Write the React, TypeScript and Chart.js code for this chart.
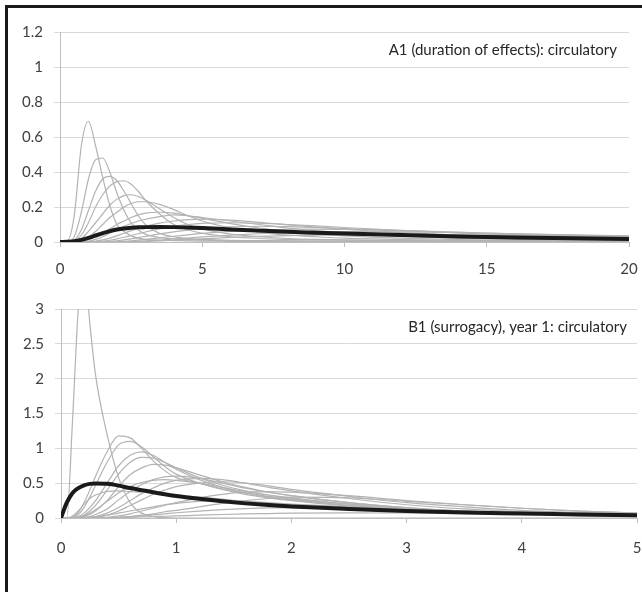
import React, { useEffect, useRef } from "react";
import { Chart, registerables } from "chart.js";
Chart.register(...registerables);

// ---------- Panel A1 (duration of effects): x in years 0..20 ----------
const topTitle = "A1 (duration of effects): circulatory";
const topX = [0, 0.25, 0.5, 0.75, 1, 1.25, 1.5, 1.75, 2, 2.25, 2.5, 2.75, 3, 3.5, 4, 4.5, 5, 6, 7, 8, 9, 10, 12, 14, 16, 18, 20];
const topMean = [0, 0.001, 0.004, 0.012, 0.024, 0.037, 0.05, 0.062, 0.071, 0.077, 0.081, 0.084, 0.085, 0.086, 0.085, 0.083, 0.08, 0.072, 0.065, 0.058, 0.053, 0.048, 0.04, 0.032, 0.026, 0.021, 0.017];
const topG1 = [0, 0.005, 0.15, 0.55, 0.69, 0.55, 0.37, 0.21, 0.1, 0.06, 0.035, 0.022, 0.015, 0.01, 0.008, 0.006, 0.005, 0.004, 0.003, 0.003, 0.002, 0.002, 0.001, 0.001, 0, 0, 0];
const topG2 = [0, 0, 0.03, 0.17, 0.36, 0.47, 0.48, 0.4, 0.28, 0.18, 0.11, 0.07, 0.045, 0.025, 0.018, 0.014, 0.011, 0.008, 0.006, 0.005, 0.004, 0.003, 0.002, 0.001, 0.001, 0, 0];
const topG3 = [0, 0, 0.01, 0.07, 0.18, 0.29, 0.36, 0.375, 0.35, 0.29, 0.22, 0.15, 0.1, 0.05, 0.03, 0.02, 0.015, 0.01, 0.008, 0.006, 0.005, 0.004, 0.003, 0.002, 0.001, 0.001, 0];
const topG4 = [0, 0, 0.005, 0.04, 0.11, 0.2, 0.27, 0.32, 0.345, 0.35, 0.33, 0.29, 0.24, 0.16, 0.1, 0.07, 0.05, 0.03, 0.02, 0.015, 0.012, 0.01, 0.007, 0.005, 0.003, 0.002, 0.002];
const topG5 = [0, 0, 0, 0.02, 0.06, 0.11, 0.16, 0.21, 0.245, 0.265, 0.27, 0.26, 0.24, 0.19, 0.14, 0.1, 0.075, 0.045, 0.03, 0.02, 0.015, 0.012, 0.008, 0.005, 0.004, 0.003, 0.002];
const topG6 = [0, 0, 0, 0.01, 0.03, 0.06, 0.1, 0.14, 0.17, 0.2, 0.22, 0.23, 0.23, 0.215, 0.185, 0.15, 0.12, 0.08, 0.055, 0.04, 0.03, 0.022, 0.014, 0.009, 0.006, 0.004, 0.003];
const topG7 = [0, 0, 0, 0.005, 0.015, 0.03, 0.05, 0.075, 0.1, 0.12, 0.14, 0.155, 0.165, 0.17, 0.165, 0.15, 0.135, 0.105, 0.08, 0.06, 0.045, 0.035, 0.022, 0.014, 0.009, 0.006, 0.004];
const topG8 = [0, 0, 0, 0, 0.005, 0.015, 0.03, 0.05, 0.07, 0.09, 0.105, 0.12, 0.13, 0.145, 0.155, 0.15, 0.14, 0.12, 0.1, 0.08, 0.065, 0.052, 0.034, 0.022, 0.015, 0.01, 0.007];
const topG9 = [0, 0, 0, 0, 0, 0.005, 0.012, 0.022, 0.035, 0.05, 0.065, 0.078, 0.09, 0.108, 0.12, 0.128, 0.13, 0.125, 0.112, 0.098, 0.085, 0.073, 0.054, 0.04, 0.03, 0.022, 0.016];
const topG10 = [0, 0, 0, 0, 0, 0, 0.005, 0.01, 0.018, 0.027, 0.037, 0.047, 0.057, 0.075, 0.09, 0.1, 0.106, 0.11, 0.107, 0.1, 0.092, 0.083, 0.066, 0.052, 0.04, 0.031, 0.024];
const topG11 = [0, 0, 0, 0, 0, 0, 0, 0.003, 0.007, 0.012, 0.018, 0.025, 0.032, 0.046, 0.058, 0.068, 0.076, 0.087, 0.09, 0.088, 0.083, 0.077, 0.065, 0.053, 0.043, 0.035, 0.028];
const topG12 = [0, 0, 0, 0, 0, 0, 0, 0, 0.002, 0.004, 0.007, 0.011, 0.015, 0.024, 0.033, 0.041, 0.049, 0.061, 0.069, 0.073, 0.074, 0.072, 0.065, 0.056, 0.047, 0.039, 0.032];
const topG13 = [0, 0, 0, 0, 0, 0, 0, 0, 0, 0.001, 0.002, 0.004, 0.006, 0.011, 0.017, 0.023, 0.029, 0.039, 0.047, 0.053, 0.057, 0.059, 0.058, 0.053, 0.047, 0.041, 0.035];
const topG14 = [0, 0, 0, 0, 0, 0, 0, 0, 0, 0, 0.001, 0.002, 0.003, 0.006, 0.01, 0.014, 0.018, 0.026, 0.032, 0.036, 0.039, 0.041, 0.042, 0.041, 0.038, 0.035, 0.032];
const topGray = [topG1, topG2, topG3, topG4, topG5, topG6, topG7, topG8, topG9, topG10, topG11, topG12, topG13, topG14];

// ---------- Panel B1 (surrogacy), year 1: x in years 0..5 ----------
const botTitle = "B1 (surrogacy), year 1: circulatory";
const botX = [0, 0.05, 0.1, 0.15, 0.2, 0.25, 0.3, 0.4, 0.5, 0.6, 0.7, 0.8, 0.9, 1, 1.2, 1.4, 1.6, 1.8, 2, 2.5, 3, 3.5, 4, 4.5, 5];
const botMean = [0, 0.22, 0.36, 0.43, 0.47, 0.49, 0.495, 0.49, 0.465, 0.43, 0.4, 0.37, 0.34, 0.315, 0.275, 0.24, 0.21, 0.185, 0.165, 0.13, 0.1, 0.08, 0.065, 0.05, 0.04];
const botG1 = [0, 0, 1.4, 3.0, 3.7, 2.8, 2.05, 1.2, 0.58, 0.22, 0.07, 0.02, 0.005, 0, 0, 0, 0, 0, 0, 0, 0, 0, 0, 0, 0];
const botG2 = [0, 0, 0.01, 0.08, 0.22, 0.4, 0.6, 0.95, 1.18, 1.15, 1.0, 0.82, 0.68, 0.58, 0.5, 0.42, 0.36, 0.31, 0.27, 0.18, 0.12, 0.08, 0.055, 0.04, 0.03];
const botG3 = [0, 0, 0.005, 0.05, 0.15, 0.3, 0.47, 0.8, 1.05, 1.1, 1.02, 0.88, 0.74, 0.63, 0.5, 0.41, 0.34, 0.29, 0.25, 0.17, 0.11, 0.075, 0.05, 0.035, 0.025];
const botG4 = [0, 0, 0, 0.02, 0.07, 0.15, 0.25, 0.5, 0.75, 0.9, 0.95, 0.9, 0.8, 0.7, 0.55, 0.44, 0.36, 0.3, 0.26, 0.18, 0.12, 0.08, 0.055, 0.04, 0.03];
const botG5 = [0, 0, 0, 0.01, 0.04, 0.1, 0.18, 0.4, 0.63, 0.8, 0.87, 0.86, 0.8, 0.72, 0.58, 0.47, 0.39, 0.33, 0.28, 0.2, 0.14, 0.1, 0.07, 0.05, 0.035];
const botG6 = [0, 0, 0, 0, 0.02, 0.05, 0.1, 0.25, 0.45, 0.62, 0.72, 0.77, 0.76, 0.72, 0.62, 0.52, 0.44, 0.37, 0.32, 0.22, 0.15, 0.1, 0.07, 0.05, 0.035];
const botG7 = [0, 0, 0, 0, 0.01, 0.02, 0.05, 0.13, 0.26, 0.38, 0.48, 0.55, 0.59, 0.6, 0.57, 0.5, 0.43, 0.37, 0.32, 0.22, 0.15, 0.1, 0.07, 0.05, 0.035];
const botG8 = [0, 0, 0, 0, 0, 0.01, 0.02, 0.07, 0.15, 0.25, 0.35, 0.43, 0.5, 0.54, 0.57, 0.55, 0.5, 0.44, 0.39, 0.28, 0.19, 0.13, 0.09, 0.06, 0.04];
const botG9 = [0, 0, 0, 0, 0, 0, 0.01, 0.04, 0.1, 0.18, 0.26, 0.34, 0.4, 0.45, 0.5, 0.52, 0.5, 0.46, 0.41, 0.31, 0.22, 0.16, 0.11, 0.08, 0.055];
const botG10 = [0, 0, 0.03, 0.1, 0.2, 0.28, 0.33, 0.38, 0.39, 0.38, 0.37, 0.36, 0.35, 0.33, 0.3, 0.27, 0.24, 0.21, 0.19, 0.14, 0.1, 0.075, 0.055, 0.04, 0.03];
const botG11 = [0, 0, 0, 0, 0, 0, 0, 0.01, 0.03, 0.06, 0.1, 0.14, 0.18, 0.22, 0.29, 0.34, 0.37, 0.38, 0.37, 0.32, 0.25, 0.19, 0.14, 0.1, 0.07];
const botG12 = [0, 0, 0, 0, 0, 0, 0, 0, 0.01, 0.02, 0.04, 0.06, 0.09, 0.11, 0.16, 0.21, 0.25, 0.28, 0.3, 0.29, 0.24, 0.19, 0.14, 0.1, 0.07];
const botG13 = [0, 0, 0, 0, 0.005, 0.01, 0.02, 0.04, 0.07, 0.1, 0.13, 0.16, 0.19, 0.21, 0.24, 0.25, 0.24, 0.22, 0.2, 0.16, 0.12, 0.09, 0.07, 0.05, 0.04];
const botG14 = [0, 0, 0, 0, 0, 0, 0, 0.005, 0.01, 0.02, 0.03, 0.045, 0.06, 0.075, 0.1, 0.12, 0.135, 0.145, 0.15, 0.14, 0.12, 0.1, 0.08, 0.06, 0.045];
const botG15 = [0, 0, 0, 0, 0, 0, 0, 0, 0.005, 0.01, 0.015, 0.02, 0.025, 0.03, 0.04, 0.05, 0.058, 0.064, 0.07, 0.075, 0.072, 0.065, 0.057, 0.05, 0.043];
const botG16 = [0, 0, 0, 0.01, 0.03, 0.07, 0.12, 0.24, 0.36, 0.45, 0.51, 0.54, 0.55, 0.54, 0.5, 0.44, 0.38, 0.33, 0.29, 0.2, 0.14, 0.1, 0.07, 0.05, 0.035];
const botGray = [botG1, botG2, botG3, botG4, botG5, botG6, botG7, botG8, botG9, botG10, botG11, botG12, botG13, botG14, botG15, botG16];

const FONT = "Lato, 'Open Sans', sans-serif";
const FONT_SIZE = 15;

function buildDatasets(xs: number[], mean: number[], grays: number[][]) {
  const pts = (ys: number[]) => ys.map((y, i) => ({ x: xs[i], y }));
  const ds: any[] = [
    {
      data: pts(mean),
      borderColor: "#1a1a1a",
      borderWidth: 4,
      pointRadius: 0,
      cubicInterpolationMode: "monotone",
      order: 0,
    },
  ];
  grays.forEach((g) =>
    ds.push({
      data: pts(g),
      borderColor: "#b3b3b3",
      borderWidth: 1.2,
      pointRadius: 0,
      cubicInterpolationMode: "monotone",
      order: 1,
    })
  );
  return ds;
}

function titlePlugin(text: string, dx: number, dy: number) {
  return {
    id: "panelTitle",
    afterDraw(chart: any) {
      const { ctx, chartArea } = chart;
      ctx.save();
      ctx.font = FONT_SIZE + "px " + FONT;
      ctx.fillStyle = "#262626";
      ctx.textAlign = "right";
      ctx.textBaseline = "middle";
      ctx.fillText(text, chartArea.right - dx, chartArea.top + dy);
      ctx.restore();
    },
  };
}

const fmt = (v: any) => String(Number(Number(v).toFixed(2)));

function makeConfig(
  xs: number[],
  mean: number[],
  grays: number[][],
  xMax: number,
  xStep: number,
  yMax: number,
  yStep: number,
  padding: any,
  title: string,
  titleDx: number,
  xTickPad: number
): any {
  return {
    type: "line",
    data: { datasets: buildDatasets(xs, mean, grays) },
    options: {
      responsive: false,
      animation: false,
      events: [],
      layout: { padding },
      plugins: { legend: { display: false }, tooltip: { enabled: false } },
      scales: {
        x: {
          type: "linear",
          min: 0,
          max: xMax,
          ticks: { stepSize: xStep, color: "#404040", font: { family: FONT, size: FONT_SIZE }, padding: xTickPad, maxRotation: 0, callback: fmt },
          grid: { drawOnChartArea: false, drawTicks: true, tickLength: 5, color: "#bfbfbf" },
          border: { color: "#bfbfbf", width: 1 },
          afterFit(s: any) {
            s.height = 40;
            s.paddingLeft = 0;
            s.paddingRight = 0;
          },
        },
        y: {
          type: "linear",
          min: 0,
          max: yMax,
          ticks: { stepSize: yStep, color: "#404040", font: { family: FONT, size: FONT_SIZE }, padding: 11, callback: fmt },
          grid: { color: "#d9d9d9", drawTicks: true, tickLength: 6 },
          border: { color: "#bfbfbf", width: 1 },
          afterFit(s: any) {
            s.width = 52;
            s.paddingTop = 0;
            s.paddingBottom = 0;
          },
        },
      },
    },
    plugins: [titlePlugin(title, titleDx, 18)],
  };
}

export default function App() {
  const topRef = useRef<HTMLCanvasElement>(null);
  const botRef = useRef<HTMLCanvasElement>(null);

  useEffect(() => {
    const c1 = new Chart(
      topRef.current as HTMLCanvasElement,
      makeConfig(topX, topMean, topGray, 20, 5, 1.2, 0.2, { left: 8, top: 32, right: 13, bottom: 0 }, topTitle, 12, 13)
    );
    const c2 = new Chart(
      botRef.current as HTMLCanvasElement,
      makeConfig(botX, botMean, botGray, 5, 1, 3, 0.5, { left: 9, top: 24, right: 5, bottom: 0 }, botTitle, 10, 16)
    );
    return () => {
      c1.destroy();
      c2.destroy();
    };
  }, []);

  return (
    <div style={{ position: "fixed", left: 0, top: 0, width: 642, height: 592, background: "#fff", overflow: "hidden" }}>
      <div
        style={{
          position: "absolute",
          left: 5,
          top: 5,
          width: 700,
          height: 700,
          borderLeft: "3px solid #1a1a1a",
          borderTop: "3px solid #1a1a1a",
        }}
      />
      <canvas ref={topRef} width={642} height={282} style={{ position: "absolute", left: 0, top: 0 }} />
      <canvas ref={botRef} width={642} height={273} style={{ position: "absolute", left: 0, top: 285 }} />
    </div>
  );
}
